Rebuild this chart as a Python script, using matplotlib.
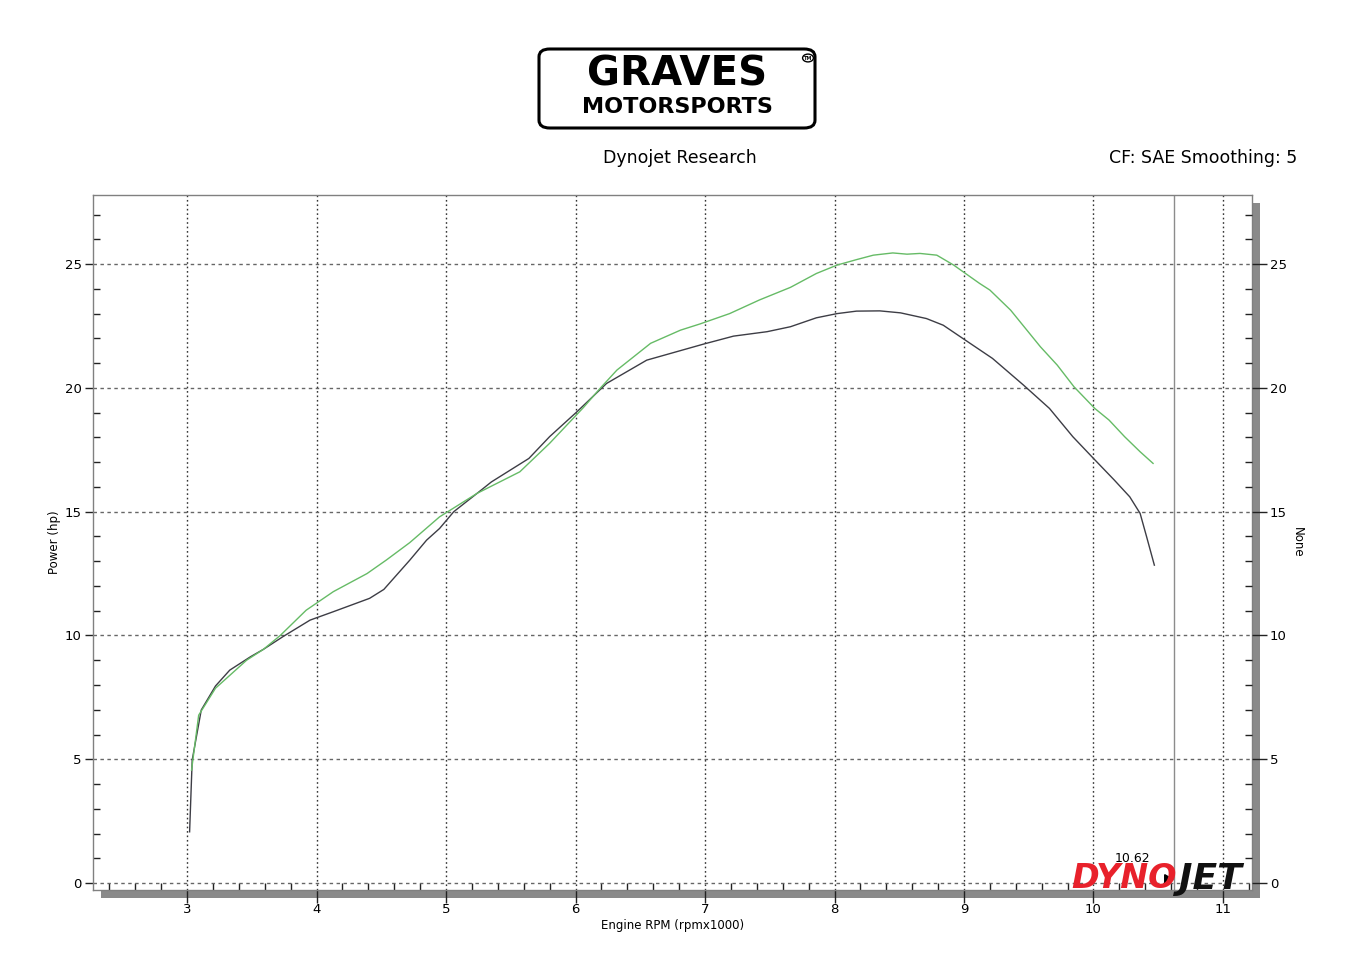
import matplotlib
matplotlib.use("Agg")
import matplotlib.pyplot as plt
from matplotlib.patches import Rectangle, FancyBboxPatch, Circle
from matplotlib.ticker import MultipleLocator

# Datos (rpm x1000, hp)
rpm_run1 = [3.02, 3.04, 3.11, 3.22, 3.33, 3.49, 3.59, 3.74, 3.95, 4.13, 4.41, 4.52,
            4.72, 4.85, 4.95, 5.06, 5.24, 5.35, 5.64, 5.80, 6.01, 6.24, 6.55, 6.99,
            7.22, 7.48, 7.66, 7.86, 8.02, 8.17, 8.35, 8.51, 8.71, 8.84, 8.99, 9.22,
            9.46, 9.66, 9.84, 10.0, 10.16, 10.28, 10.36, 10.41, 10.47]
hp_run1 = [2.07, 4.97, 6.99, 7.96, 8.6, 9.14, 9.44, 9.95, 10.62, 10.96, 11.5, 11.86,
           13.04, 13.85, 14.32, 15.0, 15.74, 16.2, 17.15, 18.03, 19.03, 20.18, 21.12, 21.77,
           22.09, 22.27, 22.47, 22.83, 23.0, 23.1, 23.11, 23.03, 22.8, 22.53, 22.0, 21.19,
           20.11, 19.17, 18.03, 17.15, 16.28, 15.6, 14.93, 13.99, 12.84]

rpm_run2 = [3.035, 3.09, 3.22, 3.46, 3.59, 3.72, 3.92, 4.13, 4.39, 4.54, 4.72, 4.95,
            5.24, 5.57, 5.80, 6.06, 6.19, 6.32, 6.58, 6.81, 6.96, 7.19, 7.42, 7.66,
            7.86, 8.02, 8.17, 8.30, 8.45, 8.56, 8.66, 8.79, 8.92, 9.12, 9.20, 9.36,
            9.59, 9.72, 9.85, 10.01, 10.12, 10.24, 10.36, 10.46]
hp_run2 = [4.56, 6.78, 7.87, 9.0, 9.44, 10.0, 11.02, 11.77, 12.5, 13.05, 13.75, 14.79,
           15.74, 16.61, 17.76, 19.2, 19.98, 20.72, 21.8, 22.33, 22.58, 23.0, 23.55, 24.06,
           24.62, 24.96, 25.18, 25.36, 25.45, 25.4, 25.43, 25.36, 24.96, 24.22, 23.95, 23.14,
           21.66, 20.92, 20.04, 19.17, 18.7, 18.03, 17.42, 16.95]

cursor_rpm = 10.62

W, H = 1352, 976
fig = plt.figure(figsize=(W / 100, H / 100), dpi=100)
fig.patch.set_facecolor("white")

def fx(px):
    return px / W

def fy(py):
    return 1 - py / H

# Sombra detras del area del grafico
fig.patches.append(Rectangle((fx(101), fy(898)), fx(1260) - fx(101), fy(203) - fy(898),
                             transform=fig.transFigure, facecolor="#8a8a8a",
                             edgecolor="none", zorder=-1))

ax = fig.add_axes([fx(93), fy(890), fx(1252) - fx(93), fy(195) - fy(890)])
ax.set_facecolor("white")
ax.set_xlim(2.274, 11.224)
ax.set_ylim(-0.28, 27.79)

ax.plot(rpm_run1, hp_run1, color="#3d3d45", lw=1.0, zorder=3)
ax.plot(rpm_run2, hp_run2, color="#66bb66", lw=1.0, zorder=3)
ax.axvline(cursor_rpm, color="#8c8c8c", lw=1.0, zorder=2)
ax.plot([cursor_rpm - 0.05], [0.15], marker=(3, 0, 30), color="black", ms=8, zorder=6)

ax.xaxis.set_major_locator(MultipleLocator(1))
ax.xaxis.set_minor_locator(MultipleLocator(0.2))
ax.yaxis.set_major_locator(MultipleLocator(5))
ax.yaxis.set_minor_locator(MultipleLocator(1))

ax.grid(which="major", axis="x", color="#333333", lw=1.0, ls=(0, (1.2, 2)))
ax.grid(which="major", axis="y", color="#666666", lw=1.0, ls=(0, (2.5, 2.5)))

for s in ax.spines.values():
    s.set_color("#808080")
    s.set_linewidth(1.0)

ax.tick_params(axis="x", which="major", direction="out", length=9.5, width=1,
               color="#222222", labelsize=9.5, pad=0)
ax.tick_params(axis="x", which="minor", direction="in", length=5, width=1, color="#222222")
ax.tick_params(axis="y", which="major", direction="out", length=6, width=1,
               color="#222222", labelsize=9.5, pad=2)
ax.tick_params(axis="y", which="minor", direction="in", length=5, width=1, color="#222222")

ax.set_xlabel("Engine RPM (rpmx1000)", fontsize=8.5, labelpad=2)
ax.set_ylabel("Power (hp)", fontsize=8.5, labelpad=3)

ax2 = ax.twinx()
ax2.set_ylim(ax.get_ylim())
ax2.yaxis.set_major_locator(MultipleLocator(5))
ax2.yaxis.set_minor_locator(MultipleLocator(1))
ax2.tick_params(axis="y", which="major", direction="out", length=11, width=1,
                color="#222222", labelsize=9.5, pad=2)
ax2.tick_params(axis="y", which="minor", direction="in", length=5, width=1, color="#222222")
for s in ax2.spines.values():
    s.set_visible(False)
ax2.set_ylabel("None", fontsize=8.5, rotation=-90, labelpad=12)

# Cabecera
fig.text(fx(680), fy(158), "Dynojet Research", fontsize=12.5, ha="center", va="center")
fig.text(fx(1297), fy(158), "CF: SAE Smoothing: 5", fontsize=12.5, ha="right", va="center")

# Logo Graves Motorsports
fig.patches.append(FancyBboxPatch((fx(539), fy(128)), fx(815) - fx(539), fy(49) - fy(128),
                                  boxstyle="round,pad=0,rounding_size=0.008",
                                  transform=fig.transFigure, facecolor="white",
                                  edgecolor="black", lw=2.2))
fig.text(fx(677), fy(75), "GRAVES", fontsize=29, fontweight="heavy", ha="center",
         va="center", family="DejaVu Sans")
fig.text(fx(677), fy(107), "MOTORSPORTS", fontsize=16, fontweight="heavy", ha="center",
         va="center", family="DejaVu Sans")
fig.patches.append(Circle((fx(808), fy(58)), 0.004, transform=fig.transFigure,
                          facecolor="white", edgecolor="black", lw=1))
fig.text(fx(808), fy(58), "TM", fontsize=3.5, ha="center", va="center", fontweight="bold")

# Logo Dynojet y valor del cursor
fig.text(fx(1132), fy(858), "10.62", fontsize=9, ha="center", va="center")
fig.text(fx(1177), fy(879), "DYNO", fontsize=24, fontweight="heavy", style="italic",
         color="#e8212b", ha="right", va="center", zorder=10)
fig.text(fx(1179), fy(879), "JET", fontsize=26, fontweight="heavy", style="italic",
         color="#111111", ha="left", va="center", zorder=10)

fig.savefig("out.png", dpi=100)
